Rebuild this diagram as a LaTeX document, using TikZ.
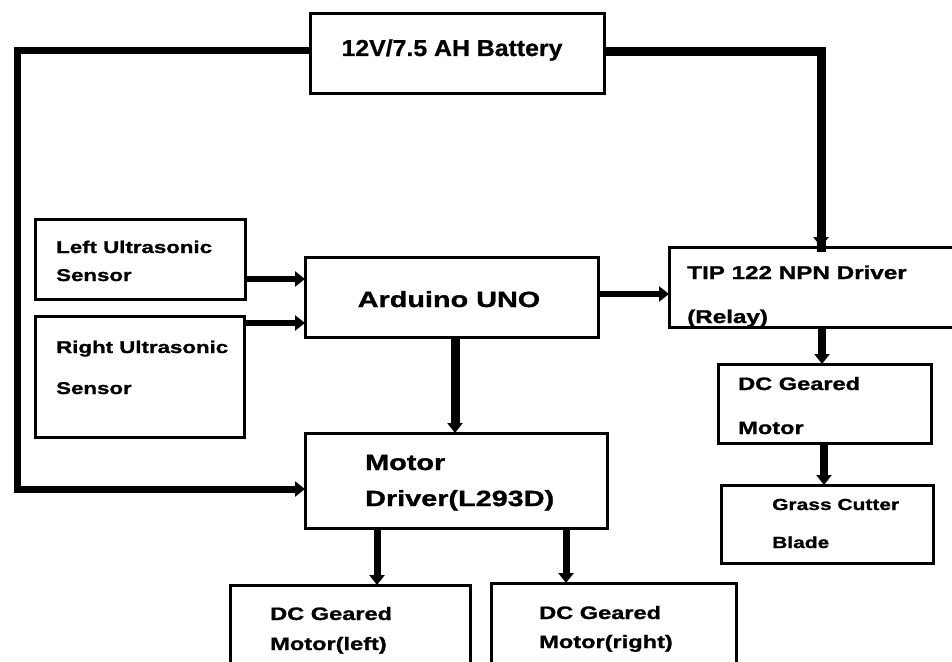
\documentclass[tikz,border=0pt]{standalone}
\usepackage{fontspec}
\setmainfont{Liberation Sans}
\newfontfamily\wf[FakeStretch=1.31,FakeBold=1.2]{Liberation Sans}
\newfontfamily\batfont[FakeStretch=1.08,FakeBold=0.8]{Liberation Sans}
\usetikzlibrary{arrows.meta}
\begin{document}
\begin{tikzpicture}[x=1pt,y=-1pt,
  box/.style={draw, line width=3pt, inner sep=0pt, outer sep=0pt},
  txt/.style={anchor=base west, inner sep=0pt, font=\wf\bfseries},
  wire/.style={line width=7pt, line join=miter},
  arr/.style={line width=6pt, -{Triangle[length=10pt,width=15pt]}}]
\clip (0,0) rectangle (952,661);
\fill[white] (0,0) rectangle (952,661);
% boxes
\node[box, minimum width=294pt, minimum height=79pt] (bat) at (457,53.5) {};
\node[box, minimum width=210pt, minimum height=80pt] (ls) at (140,259) {};
\node[box, minimum width=209pt, minimum height=121pt] (rs) at (139.5,376.5) {};
\node[box, minimum width=293pt, minimum height=80pt] (ard) at (451.5,297) {};
\node[box, minimum width=291pt, minimum height=80pt] (tip) at (814.5,287) {};
\node[box, minimum width=213pt, minimum height=79pt] (dcm) at (824.5,403.5) {};
\node[box, minimum width=212pt, minimum height=78pt] (gcb) at (827,524) {};
\node[box, minimum width=302pt, minimum height=95pt] (md) at (456,480.5) {};
\node[box, minimum width=240pt, minimum height=95pt] (dcl) at (350,632.5) {};
\node[box, minimum width=245pt, minimum height=97pt] (dcr) at (613.5,631.5) {};
% texts
\node[anchor=base, inner sep=0pt, font=\batfont\bfseries\fontsize{23}{26}\selectfont] (t0) at (452,56) {12V/7.5 AH Battery};
\node[txt, font=\wf\bfseries\fontsize{17}{20}\selectfont] (t1) at (56,253) {Left Ultrasonic};
\node[txt, font=\wf\bfseries\fontsize{17}{20}\selectfont] (t2) at (56,281) {Sensor};
\node[txt, font=\wf\bfseries\fontsize{17}{20}\selectfont] (t3) at (56,353) {Right Ultrasonic};
\node[txt, font=\wf\bfseries\fontsize{17}{20}\selectfont] (t4) at (56,394) {Sensor};
\node[anchor=base, inner sep=0pt, font=\wf\bfseries\fontsize{22}{26}\selectfont] (t5) at (449,307) {Arduino UNO};
\node[txt, font=\wf\bfseries\fontsize{18.5}{22}\selectfont] (t6) at (687,279) {TIP 122 NPN Driver};
\node[txt, font=\wf\bfseries\fontsize{18.5}{22}\selectfont] (t7) at (687,323) {(Relay)};
\node[txt, font=\wf\bfseries\fontsize{18}{22}\selectfont] (t8) at (738,390) {DC Geared};
\node[txt, font=\wf\bfseries\fontsize{18}{22}\selectfont] (t9) at (738,434) {Motor};
\node[txt, font=\wf\bfseries\fontsize{16}{19}\selectfont] (t10) at (772,510) {Grass Cutter};
\node[txt, font=\wf\bfseries\fontsize{16}{19}\selectfont] (t11) at (772,548) {Blade};
\node[txt, font=\wf\bfseries\fontsize{22}{26}\selectfont] (t12) at (365,470) {Motor};
\node[txt, font=\wf\bfseries\fontsize{22}{26}\selectfont] (t13) at (365,506) {Driver(L293D)};
\node[txt, font=\wf\bfseries\fontsize{18}{22}\selectfont] (t14) at (270,620) {DC Geared};
\node[txt, font=\wf\bfseries\fontsize{18}{22}\selectfont] (t15) at (270,650) {Motor(left)};
\node[txt, font=\wf\bfseries\fontsize{18}{22}\selectfont] (t16) at (539,619) {DC Geared};
\node[txt, font=\wf\bfseries\fontsize{18}{22}\selectfont] (t17) at (539,648) {Motor(right)};
% coordinates
\coordinate (lc1) at (17,51);
\coordinate (lc2) at (17,489);
\coordinate (rc1) at (821,52);
\coordinate (yls) at (0,279);
\coordinate (yrs) at (0,323);
\coordinate (yat) at (0,294);
\coordinate (xam) at (455,0);
\coordinate (xtd) at (822,0);
\coordinate (xdg) at (824,0);
\coordinate (xml) at (377,0);
\coordinate (xmr) at (566,0);
% connectors
\draw[wire] (bat.west |- lc1) -- (lc1) -- (lc2);
\draw[arr, line width=7pt] ([xshift=-3.5pt]lc2) -- (md.west |- lc2);
\draw[wire, line width=9pt] (bat.east |- rc1) -- (rc1) -- ([yshift=-5pt]rc1 |- tip.north);
\draw[arr, line width=7pt] ([yshift=8pt]rc1 |- tip.north) -- (rc1 |- tip.north);
\draw[arr] (ls.east |- yls) -- (ard.west |- yls);
\draw[arr] (rs.east |- yrs) -- (ard.west |- yrs);
\draw[arr] (ard.east |- yat) -- (tip.west |- yat);
\draw[arr, line width=9pt] (ard.south -| xam) -- (md.north -| xam);
\draw[arr, line width=8pt] (tip.south -| xtd) -- (dcm.north -| xtd);
\draw[arr, line width=8pt] (dcm.south -| xdg) -- (gcb.north -| xdg);
\draw[arr, line width=7pt] (md.south -| xml) -- (dcl.north -| xml);
\draw[arr, line width=7pt] (md.south -| xmr) -- (dcr.north -| xmr);
\end{tikzpicture}
\end{document}
